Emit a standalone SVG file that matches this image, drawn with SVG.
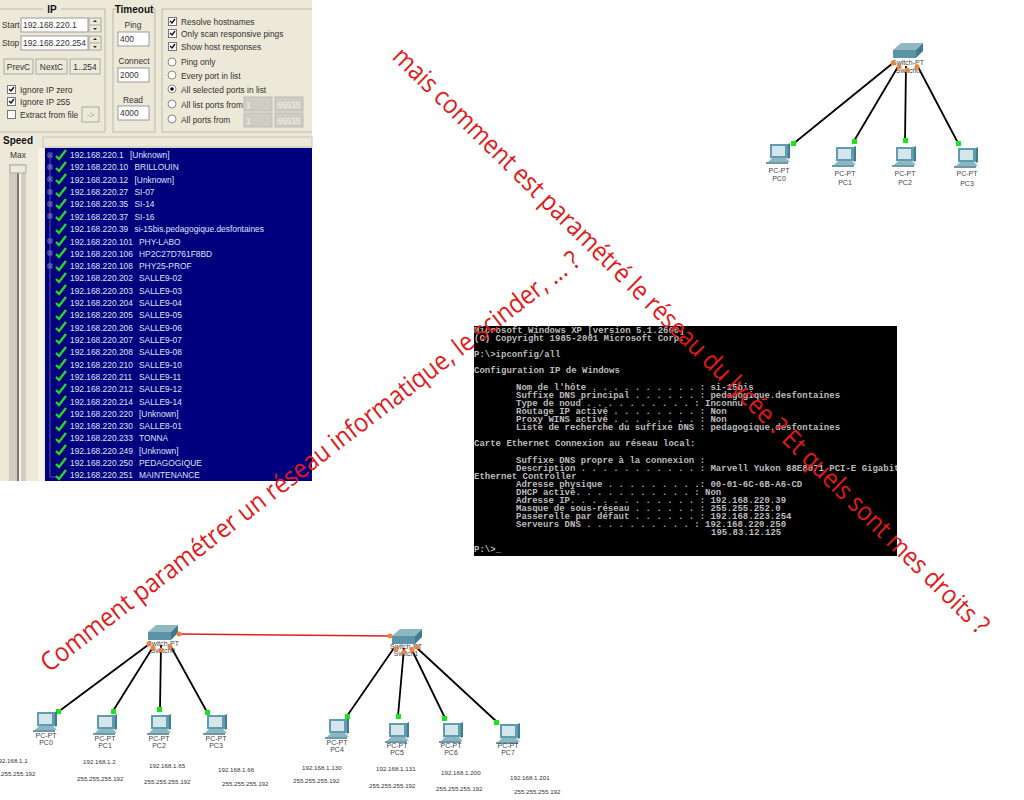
<svg xmlns="http://www.w3.org/2000/svg" width="1024" height="800" viewBox="0 0 1024 800">
<style>
text{font-family:"Liberation Sans",Arial,sans-serif}
.u{font-size:8.4px;fill:#333}
.h{font-size:10px;font-weight:bold;fill:#111}
.w{fill:#fff;stroke:#999;stroke-width:1}
.dis{fill:#d0ccc0;stroke:#bbb;stroke-width:1}
.dt{font-size:8.4px;fill:#f4f2e8}
.grp{fill:none;stroke:#bdbaac;stroke-width:1}
.btn{fill:#ece9d8;stroke:#999;stroke-width:.8}
.r{font-size:8.4px;fill:#dfe3f5}
.c{font-family:"Liberation Mono",monospace;font-size:9px;font-weight:bold;fill:#bcbcbc}
.big{font-family:"Open Sans","Liberation Sans",sans-serif;font-size:26px;fill:#e21a1a}
.pl{font-size:7px;fill:#444;text-anchor:middle}
.ip{font-size:6.2px;fill:#333}
.l{stroke:#000;stroke-width:1.8;fill:none}
.ok{fill:#19e619}.or{fill:#ee8040}
.tick{fill:none;stroke:#27d727;stroke-width:2.4}
</style>
<defs>
<symbol id="pc" viewBox="0 0 30 30" width="30" height="30" overflow="visible">
<path d="M6 2H24V16H6Z" fill="#5f9cb0"/><path d="M8 4H21V14H8Z" fill="#d5e6ea"/><path d="M24 2l2-1V16l-2 1Z" fill="#3e7d92"/>
<path d="M4 20L8 16H22L26 20Z" fill="#8bb6c2"/><path d="M2 20H24V22H2Z" fill="#6a9aaa"/>
</symbol>
<symbol id="sw" viewBox="0 0 34 16" width="34" height="16" overflow="visible">
<path d="M1 7H24L31 0H9Z" fill="#8fb8c2"/><path d="M1 7H24V15H1Z" fill="#5c93a6"/><path d="M24 7L31 0V8L24 15Z" fill="#3f7a8e"/>
</symbol>
<symbol id="box" viewBox="0 0 9 9" width="9" height="9"><rect x=".5" y=".5" width="8" height="8" fill="#fff" stroke="#777"/><path d="M2 4l2 2 3-4" fill="none" stroke="#111" stroke-width="1.4"/></symbol>
<path id="tk" d="M0 6l3 3 7-9" class="tick"/>
<path id="pm" d="M48 0h4v4h-4zM50 .8v2.400M48.800 2h2.400" fill="none" stroke="#9a9ad0" stroke-width=".7"/>
<clipPath id="cc"><rect x="474" y="326" width="423" height="230"/></clipPath>
</defs>
<rect width="1024" height="800" fill="#fff"/>
<g id="scanner">
<rect width="312" height="481" fill="#ece9d8"/>
<path d="M0 9H105V132H0" class="grp"/><rect x="113" y="9" width="42" height="123" class="grp"/><path d="M312 9H162V132H312" class="grp"/>
<rect x="43" y="2" width="18" height="12" fill="#ece9d8"/><rect x="116" y="3" width="36" height="12" fill="#ece9d8"/>
<text x="52" y="13" class="h" text-anchor="middle">IP</text><text x="134" y="13" class="h" text-anchor="middle">Timeout</text>
<text x="2" y="28" class="u">Start</text><rect x="21" y="18" width="67" height="14" class="w"/><text x="23" y="28" class="u">192.168.220.1</text>
<text x="2" y="46" class="u">Stop</text><rect x="21" y="36" width="67" height="14" class="w"/><text x="23" y="46" class="u">192.168.220.254</text>
<rect x="89" y="18" width="12" height="14" class="btn"/><rect x="89" y="36" width="12" height="14" class="btn"/>
<path d="M90 25h10M90 43h10" stroke="#999" stroke-width=".8"/>
<path d="M95 20l-2 2h4zM95 30l-2-2h4zM95 38l-2 2h4zM95 48l-2-2h4z" fill="#222"/>
<rect x="4" y="59" width="29" height="15" class="btn"/><text x="18.500" y="70" class="u" text-anchor="middle">PrevC</text>
<rect x="36" y="59" width="31" height="15" class="btn"/><text x="51.500" y="70" class="u" text-anchor="middle">NextC</text>
<rect x="70" y="59" width="30" height="15" class="btn"/><text x="85" y="70" class="u" text-anchor="middle">1..254</text>
<use href="#box" x="7" y="85"/><text x="20" y="93" class="u">Ignore IP zero</text>
<use href="#box" x="7" y="97"/><text x="20" y="105" class="u">Ignore IP 255</text>
<rect x="7.500" y="110.500" width="8" height="8" fill="#fff" stroke="#777"/><text x="20" y="118" class="u">Extract from file</text>
<rect x="82" y="107" width="17" height="15" class="btn"/><text x="90.500" y="118" class="u" text-anchor="middle" style="fill:#aaa">-&gt;</text>
<text x="133" y="28" class="u" text-anchor="middle">Ping</text><rect x="118" y="32" width="31" height="14" class="w"/><text x="120" y="42" class="u">400</text>
<text x="134" y="64" class="u" text-anchor="middle">Connect</text><rect x="118" y="68" width="31" height="14" class="w"/><text x="120" y="78" class="u">2000</text>
<text x="133" y="103" class="u" text-anchor="middle">Read</text><rect x="118" y="106" width="31" height="14" class="w"/><text x="120" y="116" class="u">4000</text>
<use href="#box" x="168" y="17"/><text x="181" y="25" class="u">Resolve hostnames</text>
<use href="#box" x="168" y="29"/><text x="181" y="37" class="u">Only scan responsive pings</text>
<use href="#box" x="168" y="42"/><text x="181" y="50" class="u">Show host responses</text>
<g fill="#fff" stroke="#888"><circle cx="172" cy="62" r="4"/><circle cx="172" cy="75" r="4"/><circle cx="172" cy="89" r="4"/><circle cx="172" cy="104" r="4"/><circle cx="172" cy="119" r="4"/></g><circle cx="172" cy="89" r="1.800" fill="#000"/>
<text x="181" y="65" class="u">Ping only</text><text x="181" y="79" class="u">Every port in list</text><text x="181" y="93" class="u">All selected ports in list</text><text x="181" y="108" class="u">All list ports from</text><text x="181" y="123" class="u">All ports from</text>
<rect x="244" y="97" width="28" height="14" class="dis"/><rect x="275" y="97" width="28" height="14" class="dis"/><rect x="244" y="113" width="28" height="14" class="dis"/><rect x="275" y="113" width="28" height="14" class="dis"/>
<text x="246" y="108" class="dt">1</text><text x="277" y="108" class="dt">65535</text><text x="246" y="124" class="dt">1</text><text x="277" y="124" class="dt">65535</text>
<text x="3" y="144" class="h">Speed</text><text x="18" y="158" class="u" text-anchor="middle">Max</text>
<rect x="43" y="137" width="269" height="10" fill="#ece9d8" stroke="#c5c2b5"/>
<rect x="9" y="164" width="17" height="317" fill="#d0cdc0"/><rect x="17" y="165" width="2" height="316" fill="#77756c"/><rect x="19" y="165" width="2" height="316" fill="#f5f4ee"/><rect x="10" y="165" width="16" height="8" fill="#ece9d8" stroke="#aaa"/>
<rect x="38" y="148" width="6" height="333" fill="#f5f3e6"/>
<rect x="45" y="148" width="267" height="333" fill="#00007f"/>
<path d="M50 155V477H56" fill="none" stroke="#6a6ab0" stroke-width=".8"/>
<g id="rows">
<use href="#pm" y="153"/><use href="#pm" y="165"/><use href="#pm" y="177"/><use href="#pm" y="190"/><use href="#pm" y="202"/><use href="#pm" y="214"/><use href="#pm" y="239"/><use href="#pm" y="251"/><use href="#pm" y="264"/>
<use href="#tk" x="56" y="150"/><text x="70" y="158" class="r">192.168.220.1<tspan x="130">[Unknown]</tspan></text>
<use href="#tk" x="56" y="162"/><text x="70" y="170" class="r">192.168.220.10<tspan x="134.500">BRILLOUIN</tspan></text>
<use href="#tk" x="56" y="174"/><text x="70" y="183" class="r">192.168.220.12<tspan x="134.500">[Unknown]</tspan></text>
<use href="#tk" x="56" y="187"/><text x="70" y="195" class="r">192.168.220.27<tspan x="134.500">SI-07</tspan></text>
<use href="#tk" x="56" y="199"/><text x="70" y="207" class="r">192.168.220.35<tspan x="134.500">SI-14</tspan></text>
<use href="#tk" x="56" y="211"/><text x="70" y="220" class="r">192.168.220.37<tspan x="134.500">SI-16</tspan></text>
<use href="#tk" x="56" y="224"/><text x="70" y="232" class="r">192.168.220.39<tspan x="134.500">si-15bis.pedagogique.desfontaines</tspan></text>
<use href="#tk" x="56" y="236"/><text x="70" y="245" class="r">192.168.220.101<tspan x="139">PHY-LABO</tspan></text>
<use href="#tk" x="56" y="248"/><text x="70" y="257" class="r">192.168.220.106<tspan x="139">HP2C27D761F8BD</tspan></text>
<use href="#tk" x="56" y="261"/><text x="70" y="269" class="r">192.168.220.108<tspan x="139">PHY25-PROF</tspan></text>
<use href="#tk" x="56" y="273"/><text x="70" y="281" class="r">192.168.220.202<tspan x="139">SALLE9-02</tspan></text>
<use href="#tk" x="56" y="285"/><text x="70" y="294" class="r">192.168.220.203<tspan x="139">SALLE9-03</tspan></text>
<use href="#tk" x="56" y="297"/><text x="70" y="306" class="r">192.168.220.204<tspan x="139">SALLE9-04</tspan></text>
<use href="#tk" x="56" y="310"/><text x="70" y="318" class="r">192.168.220.205<tspan x="139">SALLE9-05</tspan></text>
<use href="#tk" x="56" y="322"/><text x="70" y="331" class="r">192.168.220.206<tspan x="139">SALLE9-06</tspan></text>
<use href="#tk" x="56" y="334"/><text x="70" y="343" class="r">192.168.220.207<tspan x="139">SALLE9-07</tspan></text>
<use href="#tk" x="56" y="347"/><text x="70" y="355" class="r">192.168.220.208<tspan x="139">SALLE9-08</tspan></text>
<use href="#tk" x="56" y="359"/><text x="70" y="368" class="r">192.168.220.210<tspan x="139">SALLE9-10</tspan></text>
<use href="#tk" x="56" y="371"/><text x="70" y="380" class="r">192.168.220.211<tspan x="139">SALLE9-11</tspan></text>
<use href="#tk" x="56" y="384"/><text x="70" y="392" class="r">192.168.220.212<tspan x="139">SALLE9-12</tspan></text>
<use href="#tk" x="56" y="396"/><text x="70" y="405" class="r">192.168.220.214<tspan x="139">SALLE9-14</tspan></text>
<use href="#tk" x="56" y="408"/><text x="70" y="417" class="r">192.168.220.220<tspan x="139">[Unknown]</tspan></text>
<use href="#tk" x="56" y="421"/><text x="70" y="429" class="r">192.168.220.230<tspan x="139">SALLE8-01</tspan></text>
<use href="#tk" x="56" y="433"/><text x="70" y="441" class="r">192.168.220.233<tspan x="139">TONNA</tspan></text>
<use href="#tk" x="56" y="445"/><text x="70" y="454" class="r">192.168.220.249<tspan x="139">[Unknown]</tspan></text>
<use href="#tk" x="56" y="458"/><text x="70" y="466" class="r">192.168.220.250<tspan x="139">PEDAGOGIQUE</tspan></text>
<use href="#tk" x="56" y="470"/><text x="70" y="478" class="r">192.168.220.251<tspan x="139">MAINTENANCE</tspan></text>
</g>
</g>
<g id="console">
<rect x="474" y="326" width="423" height="230" fill="#000"/>
<g clip-path="url(#cc)">
<text class="c" x="474" y="333">Microsoft Windows XP [version 5.1.2600]</text>
<text class="c" x="474" y="341">(C) Copyright 1985-2001 Microsoft Corp.</text>
<text class="c" x="474" y="357">P:\&gt;ipconfig/all</text>
<text class="c" x="474" y="373">Configuration IP de Windows</text>
<text class="c" x="516" y="390">Nom de l'hôte . . . . . . . . . . : si-15bis</text>
<text class="c" x="516" y="398">Suffixe DNS principal . . . . . . : pedagogique.desfontaines</text>
<text class="c" x="516" y="406">Type de noud . . . . . . . . . . : Inconnu</text>
<text class="c" x="516" y="414">Routage IP activé . . . . . . . . : Non</text>
<text class="c" x="516" y="422">Proxy WINS activé . . . . . . . . : Non</text>
<text class="c" x="516" y="430">Liste de recherche du suffixe DNS : pedagogique.desfontaines</text>
<text class="c" x="474" y="446">Carte Ethernet Connexion au réseau local:</text>
<text class="c" x="516" y="463">Suffixe DNS propre à la connexion :</text>
<text class="c" x="516" y="471">Description . . . . . . . . . . . : Marvell Yukon 88E8071 PCI-E Gigabit</text>
<text class="c" x="474" y="479">Ethernet Controller</text>
<text class="c" x="516" y="487">Adresse physique . . . . . . . . .: 00-01-6C-6B-A6-CD</text>
<text class="c" x="516" y="495">DHCP activé. . . . . . . . . . . : Non</text>
<text class="c" x="516" y="503">Adresse IP. . . . . . . . . . . . : 192.168.220.39</text>
<text class="c" x="516" y="511">Masque de sous-réseau . . . . . . : 255.255.252.0</text>
<text class="c" x="516" y="519">Passerelle par défaut . . . . . . : 192.168.223.254</text>
<text class="c" x="516" y="527">Serveurs DNS . . . . . . . . . . : 192.168.220.250</text>
<text class="c" x="711" y="535">195.83.12.125</text>
<text class="c" x="474" y="552">P:\&gt;_</text>
</g>
</g>
<g id="connectors">
<path class="l" d="M893 63L793 144M899 65L854 141M906 66L905 140M917 65L958 143"/>
<path class="l" d="M148 645L58 712M153 647L113 711M161 645L160 709M170 645L207 712"/>
<path class="l" d="M394 648L347 716M404 648L398 716M411 648L445 718M417 648L497 722"/>
<path d="M179 634L390 636" stroke="#e02020" stroke-width="1.500" fill="none"/>
</g>
<g id="net-top">
<use href="#sw" x="892" y="43"/><text x="908" y="65" class="pl">Switch-PT</text><text x="908" y="73" class="pl">Switch0</text>
<g class="or"><circle cx="893" cy="63" r="2.500"/><circle cx="899" cy="67" r="2.500"/><circle cx="907" cy="70" r="2.500"/><circle cx="917" cy="67" r="2.500"/></g>
<g class="ok"><rect x="791" y="141" width="5" height="5"/><rect x="852" y="139" width="5" height="5"/><rect x="903" y="138" width="5" height="5"/><rect x="956" y="141" width="5" height="5"/></g>
<use href="#pc" x="764" y="142"/><text x="779" y="173" class="pl">PC-PT</text><text x="779" y="181" class="pl">PC0</text>
<use href="#pc" x="830" y="145"/><text x="845" y="176" class="pl">PC-PT</text><text x="845" y="185" class="pl">PC1</text>
<use href="#pc" x="890" y="145"/><text x="905" y="176" class="pl">PC-PT</text><text x="905" y="185" class="pl">PC2</text>
<use href="#pc" x="952" y="146"/><text x="967" y="176" class="pl">PC-PT</text><text x="967" y="186" class="pl">PC3</text>
</g>
<g id="net-left">
<use href="#sw" x="147" y="625"/><text x="163" y="646" class="pl">Switch-PT</text><text x="163" y="653" class="pl">Switch0</text>
<g class="or"><circle cx="179" cy="634" r="2.500"/><circle cx="149" cy="644" r="2.500"/><circle cx="153" cy="648" r="2.500"/><circle cx="161" cy="650" r="2.500"/><circle cx="170" cy="647" r="2.500"/></g>
<g class="ok"><rect x="56" y="709" width="5" height="5"/><rect x="111" y="709" width="5" height="5"/><rect x="157" y="707" width="5" height="5"/><rect x="205" y="710" width="5" height="5"/></g>
<use href="#pc" x="31" y="710"/><text x="46" y="738" class="pl">PC-PT</text><text x="46" y="745" class="pl">PC0</text>
<use href="#pc" x="91" y="713"/><text x="105" y="741" class="pl">PC-PT</text><text x="105" y="748" class="pl">PC1</text>
<use href="#pc" x="145" y="713"/><text x="159" y="741" class="pl">PC-PT</text><text x="159" y="748" class="pl">PC2</text>
<use href="#pc" x="201" y="713"/><text x="216" y="741" class="pl">PC-PT</text><text x="216" y="748" class="pl">PC3</text>
<text x="-5" y="763" class="ip">192.168.1.1</text><text x="-11" y="776" class="ip">255.255.255.192</text>
<text x="83" y="764" class="ip">192.168.1.2</text><text x="77" y="781" class="ip">255.255.255.192</text>
<text x="149" y="768" class="ip">192.168.1.65</text><text x="144" y="784" class="ip">255.255.255.192</text>
<text x="218" y="772" class="ip">192.168.1.66</text><text x="222" y="786" class="ip">255.255.255.192</text>
</g>
<g id="net-right">
<use href="#sw" x="391" y="629"/><text x="406" y="649" class="pl">Switch-PT</text><text x="406" y="656" class="pl">Switch1</text>
<g class="or"><circle cx="390" cy="636" r="2.500"/><circle cx="396" cy="649" r="2.500"/><circle cx="404" cy="652" r="2.500"/><circle cx="412" cy="650" r="2.500"/><circle cx="417" cy="647" r="2.500"/></g>
<g class="ok"><rect x="345" y="714" width="5" height="5"/><rect x="396" y="714" width="5" height="5"/><rect x="442" y="716" width="5" height="5"/><rect x="494" y="720" width="5" height="5"/></g>
<use href="#pc" x="323" y="717"/><text x="337" y="745" class="pl">PC-PT</text><text x="337" y="752" class="pl">PC4</text>
<use href="#pc" x="383" y="721"/><text x="397" y="748" class="pl">PC-PT</text><text x="397" y="755" class="pl">PC5</text>
<use href="#pc" x="437" y="721"/><text x="451" y="748" class="pl">PC-PT</text><text x="451" y="755" class="pl">PC6</text>
<use href="#pc" x="494" y="722"/><text x="508" y="748" class="pl">PC-PT</text><text x="508" y="755" class="pl">PC7</text>
<text x="302" y="770" class="ip">192.168.1.130</text><text x="293" y="783" class="ip">255.255.255.192</text>
<text x="376" y="771" class="ip">192.168.1.131</text><text x="369" y="788" class="ip">255.255.255.192</text>
<text x="441" y="775" class="ip">192.168.1.200</text><text x="436" y="791" class="ip">255.255.255.192</text>
<text x="510" y="780" class="ip">192.168.1.201</text><text x="514" y="794" class="ip">255.255.255.192</text>
</g>
<text id="t1" class="big" textLength="672" lengthAdjust="spacingAndGlyphs" transform="translate(49 673) rotate(-37.500)">Comment paramétrer un réseau informatique, le scinder, ... ?</text>
<text id="t2" class="big" textLength="824" lengthAdjust="spacingAndGlyphs" transform="translate(391 58) rotate(44.500)">mais comment est paramétré le réseau du lycée ? Et quels sont mes droits ?</text>
</svg>
